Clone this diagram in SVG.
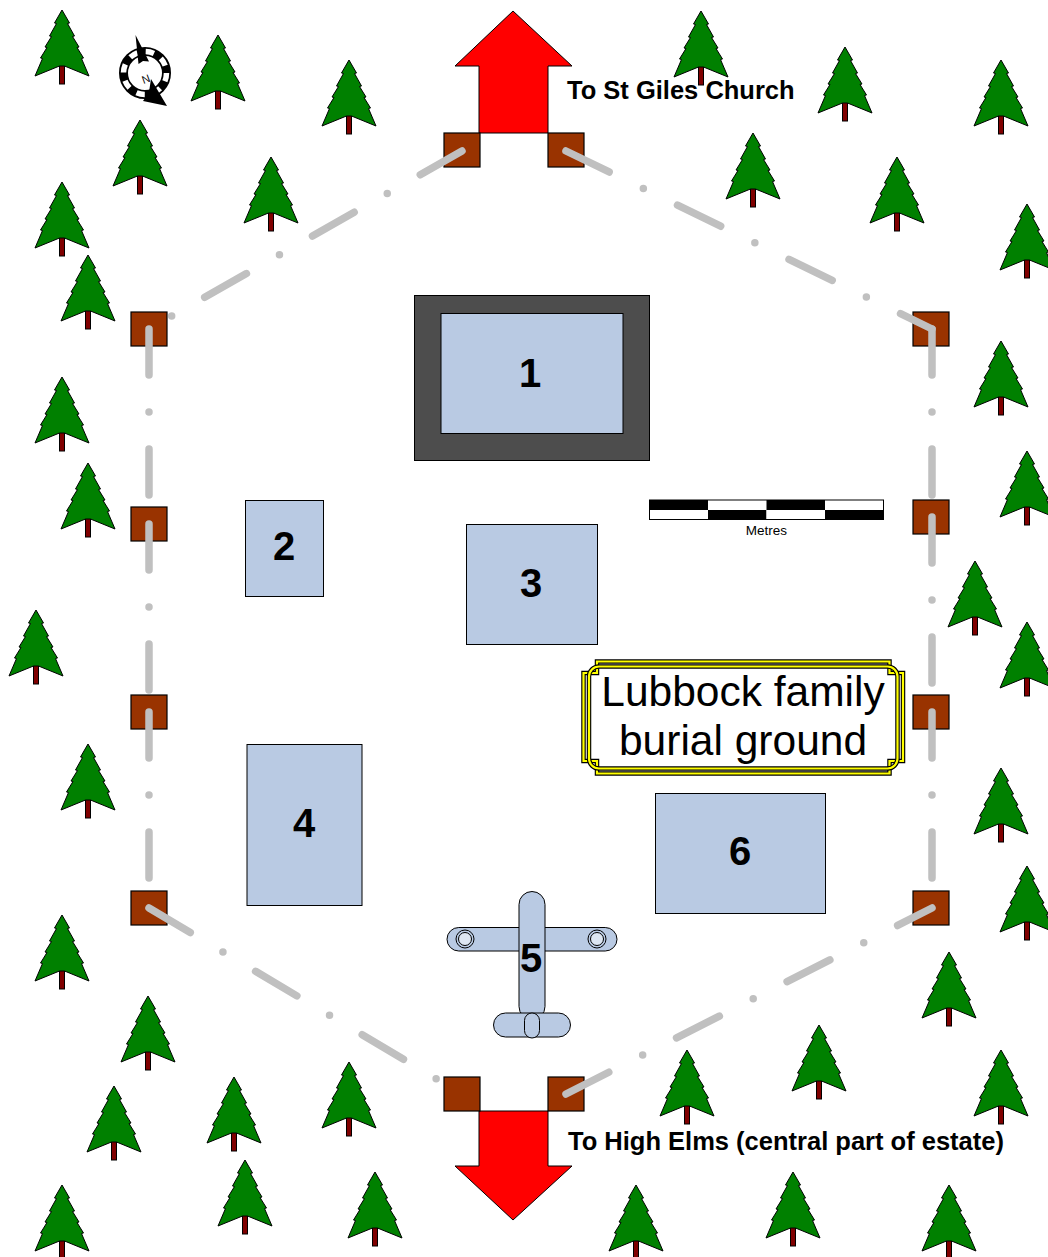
<svg xmlns="http://www.w3.org/2000/svg" width="1048" height="1257" viewBox="0 0 1048 1257">
  <style>
    .canopy { fill: #008000; stroke: #000; stroke-width: 1; stroke-linejoin: miter; }
    .trunk { fill: #800000; stroke: #000; stroke-width: 1; }
    .post { fill: #993300; stroke: #000; stroke-width: 1.2; }
    .arrow { fill: #ff0000; stroke: #000; stroke-width: 1; }
    .fence { fill: none; stroke: #c0c0c0; stroke-width: 7.5; stroke-linecap: round; }
    .fence-v { stroke-dasharray: 46 37 0 37; }
    .fence-d { stroke-dasharray: 48 38 0 38; }
    .grave { fill: #b9cae3; stroke: #000; stroke-width: 1; }
    .num { font-family: "Liberation Sans", Arial, sans-serif; font-weight: bold; font-size: 40px; text-anchor: middle; fill: #000; }
    .dir { font-family: "Liberation Sans", Arial, sans-serif; font-weight: bold; font-size: 25.5px; fill: #000; }
    .title { font-family: "Liberation Sans", Arial, sans-serif; font-size: 42.5px; text-anchor: middle; fill: #000; }
    .frame-out { fill: none; stroke: #000; stroke-width: 4.5; }
    .frame-in { fill: none; stroke: #ffff00; stroke-width: 2.2; }
  </style>
  <defs>
    <!-- conifer, origin at the tip -->
    <g id="tree">
      <rect class="trunk" x="-2.5" y="50" width="5" height="24"/>
      <path class="canopy" d="M0,0 L-7.5,13 L-5.5,13.5 L-12.5,26 L-10.5,26.5 L-17,37 L-15,37.5 L-21.5,48 L-19.5,48.5 L-27,66 L-2.5,56 L2.5,56 L27,66 L19.5,48.5 L21.5,48 L15,37.5 L17,37 L10.5,26.5 L12.5,26 L5.5,13.5 L7.5,13 Z"/>
    </g>
  </defs>

  <rect width="1048" height="1257" fill="#fff"/>

  <!-- woodland -->
  <g id="trees">
    <use href="#tree" x="62" y="10"/>
    <use href="#tree" x="218" y="35"/>
    <use href="#tree" x="349" y="60"/>
    <use href="#tree" x="140" y="120"/>
    <use href="#tree" x="271" y="157"/>
    <use href="#tree" x="62" y="182"/>
    <use href="#tree" x="88" y="255"/>
    <use href="#tree" x="62" y="377"/>
    <use href="#tree" x="88" y="463"/>
    <use href="#tree" x="36" y="610"/>
    <use href="#tree" x="88" y="744"/>
    <use href="#tree" x="62" y="915"/>
    <use href="#tree" x="148" y="996"/>
    <use href="#tree" x="114" y="1086"/>
    <use href="#tree" x="234" y="1077"/>
    <use href="#tree" x="349" y="1062"/>
    <use href="#tree" x="62" y="1185"/>
    <use href="#tree" x="245" y="1160"/>
    <use href="#tree" x="375" y="1172"/>
    <use href="#tree" x="701" y="11"/>
    <use href="#tree" x="753" y="133"/>
    <use href="#tree" x="845" y="47"/>
    <use href="#tree" x="897" y="157"/>
    <use href="#tree" x="1001" y="60"/>
    <use href="#tree" x="1027" y="204"/>
    <use href="#tree" x="1001" y="341"/>
    <use href="#tree" x="1027" y="451"/>
    <use href="#tree" x="975" y="561"/>
    <use href="#tree" x="1027" y="622"/>
    <use href="#tree" x="1001" y="768"/>
    <use href="#tree" x="1027" y="866"/>
    <use href="#tree" x="949" y="952"/>
    <use href="#tree" x="819" y="1025"/>
    <use href="#tree" x="687" y="1050"/>
    <use href="#tree" x="1001" y="1050"/>
    <use href="#tree" x="636" y="1185"/>
    <use href="#tree" x="793" y="1172"/>
    <use href="#tree" x="949" y="1185"/>
  </g>

  <!-- compass rose -->
  <g id="compass">
    <circle cx="145" cy="73" r="21.5" fill="none" stroke="#000" stroke-width="9"/>
    <circle cx="145" cy="73" r="21.5" fill="none" stroke="#fff" stroke-width="5.5" stroke-dasharray="8.45 8.45"/>
    <polygon points="135.5,35 149,61.5 143,61 138.5,64" fill="#000"/>
    <polygon points="151,79 167,106 143,101 149,92" fill="#000"/>
    <text x="146" y="83" font-family="Liberation Sans, Arial, sans-serif" font-size="11" text-anchor="middle" transform="rotate(-20 146 79)" fill="#000">N</text>
  </g>

  <!-- way out to the church -->
  <g id="arrow-north">
    <polygon class="arrow" points="513,11 572,66 548,66 548,133 479,133 479,66 455,66"/>
    <text class="dir" x="567" y="99">To St Giles Church</text>
  </g>

  <!-- way out to High Elms -->
  <g id="arrow-south">
    <polygon class="arrow" points="479,1111 548,1111 548,1166 572,1166 513,1220 455,1166 479,1166"/>
    <text class="dir" x="568" y="1150">To High Elms (central part of estate)</text>
  </g>

  <!-- fence posts -->
  <g id="posts">
    <rect class="post" x="444" y="133" width="36" height="34"/>
    <rect class="post" x="548" y="133" width="36" height="34"/>
    <rect class="post" x="131" y="312" width="36" height="34"/>
    <rect class="post" x="131" y="507" width="36" height="34"/>
    <rect class="post" x="131" y="695" width="36" height="34"/>
    <rect class="post" x="131" y="891" width="36" height="34"/>
    <rect class="post" x="913" y="312" width="36" height="34"/>
    <rect class="post" x="913" y="500" width="36" height="34"/>
    <rect class="post" x="913" y="695" width="36" height="34"/>
    <rect class="post" x="913" y="891" width="36" height="34"/>
    <rect class="post" x="444" y="1077" width="36" height="34"/>
    <rect class="post" x="548" y="1077" width="36" height="34"/>
  </g>

  <!-- boundary fence between posts -->
  <g id="fence">
    <path class="fence fence-d" d="M462,151 L149,329"/>
    <path class="fence fence-d" d="M566,151 L932,329"/>
    <path class="fence fence-v" d="M149,329 L149,524"/>
    <path class="fence fence-v" d="M149,524 L149,712"/>
    <path class="fence fence-v" d="M149,712 L149,908"/>
    <path class="fence fence-v" d="M932,329 L932,517"/>
    <path class="fence fence-v" d="M932,517 L932,712"/>
    <path class="fence fence-v" d="M932,712 L932,908"/>
    <path class="fence fence-d" d="M149,908 L462,1094"/>
    <path class="fence fence-d" d="M566,1094 L932,908"/>
  </g>

  <!-- burial plots -->
  <g id="plot-1">
    <rect x="414.5" y="295.5" width="235" height="165" fill="#4d4d4d" stroke="#000" stroke-width="1"/>
    <rect class="grave" x="441" y="313.5" width="182" height="120"/>
    <text class="num" x="530" y="387">1</text>
  </g>
  <g id="plot-2">
    <rect class="grave" x="245.5" y="500.5" width="78" height="96"/>
    <text class="num" x="284" y="560">2</text>
  </g>
  <g id="plot-3">
    <rect class="grave" x="466.5" y="524.5" width="131" height="120"/>
    <text class="num" x="531" y="597">3</text>
  </g>
  <g id="plot-4">
    <rect class="grave" x="247" y="744.5" width="115" height="161"/>
    <text class="num" x="304" y="837">4</text>
  </g>
  <g id="plot-5">
    <rect class="grave" x="447" y="927.5" width="170" height="23.5" rx="11.75"/>
    <circle cx="465" cy="939" r="9" fill="#b9cae3" stroke="#000" stroke-width="1"/>
    <circle cx="465" cy="939" r="6.5" fill="#dde6f2" stroke="#000" stroke-width="1"/>
    <circle cx="597" cy="939" r="9" fill="#b9cae3" stroke="#000" stroke-width="1"/>
    <circle cx="597" cy="939" r="6.5" fill="#dde6f2" stroke="#000" stroke-width="1"/>
    <rect class="grave" x="519" y="891.5" width="26" height="128" rx="13"/>
    <rect class="grave" x="493.5" y="1013" width="77" height="24" rx="12"/>
    <rect class="grave" x="524.5" y="1013" width="15" height="25" rx="7.5"/>
    <text class="num" x="531" y="972">5</text>
  </g>
  <g id="plot-6">
    <rect class="grave" x="655.5" y="793.5" width="170" height="120"/>
    <text class="num" x="740" y="865">6</text>
  </g>

  <!-- scale bar -->
  <g id="scale">
    <rect x="649.5" y="500" width="58.5" height="10" fill="#000"/>
    <rect x="708" y="500" width="58.5" height="10" fill="#fff"/>
    <rect x="766.5" y="500" width="58.5" height="10" fill="#000"/>
    <rect x="825" y="500" width="58.5" height="10" fill="#fff"/>
    <rect x="649.5" y="510" width="58.5" height="9.5" fill="#fff"/>
    <rect x="708" y="510" width="58.5" height="9.5" fill="#000"/>
    <rect x="766.5" y="510" width="58.5" height="9.5" fill="#fff"/>
    <rect x="825" y="510" width="58.5" height="9.5" fill="#000"/>
    <rect x="649.5" y="500" width="234" height="19.5" fill="none" stroke="#000" stroke-width="1"/>
    <text x="766.5" y="535" font-family="Liberation Sans, Arial, sans-serif" font-size="13.5" text-anchor="middle" fill="#000">Metres</text>
  </g>

  <!-- title cartouche -->
  <g id="title">
    <rect x="586" y="664" width="315" height="106" fill="#fff"/>
    <path class="frame-out" d="M597,661.5 H889.5 V673 H903 V761 H889.5 V773.5 H597 V761 H583.5 V673 H597 Z"/>
    <path class="frame-in" d="M597,661.5 H889.5 V673 H903 V761 H889.5 V773.5 H597 V761 H583.5 V673 H597 Z"/>
    <rect class="frame-out" x="589" y="666.5" width="308.5" height="102" rx="10"/>
    <rect class="frame-in" x="589" y="666.5" width="308.5" height="102" rx="10"/>
    <text class="title" x="743" y="706">Lubbock family</text>
    <text class="title" x="743" y="755">burial ground</text>
  </g>
</svg>
